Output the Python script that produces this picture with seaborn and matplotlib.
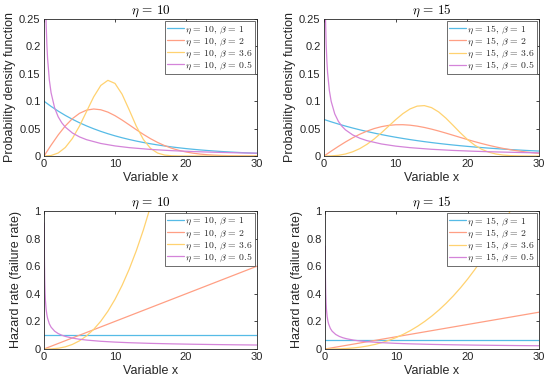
import matplotlib
matplotlib.use("Agg")
import matplotlib.pyplot as plt
import seaborn as sns

# ---------------- data ----------------
x_main = [0, 1, 2, 3, 4, 5, 6, 7, 8, 9, 10, 11, 12, 13, 14, 15,
          16, 17, 18, 19, 20, 21, 22, 23, 24, 25, 26, 27, 28, 29, 30]
x_small = [0.03, 0.06, 0.1, 0.15, 0.2, 0.3, 0.4, 0.5, 0.75, 1, 1.5, 2, 2.5, 3,
           4, 5, 6, 8, 10, 12, 15, 18, 21, 24, 27, 30]
x_line = [0, 30]

# eta = 10, probability density
pdf10_b1 = [0.1, 0.09048, 0.08187, 0.07408, 0.06703, 0.06065, 0.05488, 0.04966,
            0.04493, 0.04066, 0.03679, 0.03329, 0.03012, 0.02725, 0.02466, 0.02231,
            0.02019, 0.01827, 0.01653, 0.01496, 0.01353, 0.01225, 0.01108, 0.01003,
            0.00907, 0.00821, 0.00743, 0.00672, 0.00608, 0.00550, 0.00498]
pdf10_b2 = [0, 0.01980, 0.03843, 0.05484, 0.06817, 0.07788, 0.08372, 0.08577,
            0.08437, 0.08007, 0.07358, 0.06560, 0.05686, 0.04798, 0.03944, 0.03162,
            0.02474, 0.01890, 0.01410, 0.01028, 0.00733, 0.00511, 0.00348, 0.00232,
            0.00151, 0.00097, 0.00060, 0.00037, 0.00022, 0.00013, 0.00007]
pdf10_b36 = [0, 0.000904, 0.005466, 0.015528, 0.032034, 0.054677, 0.081366, 0.107968,
             0.128778, 0.138077, 0.132437, 0.112682, 0.084132, 0.054418, 0.030057,
             0.013954, 0.005354, 0.001667, 0.000413, 0.00008, 0.000012, 0, 0, 0, 0,
             0, 0, 0, 0, 0, 0]
pdf10_b05 = [0.86421, 0.59739, 0.45242, 0.36119, 0.30693, 0.24277, 0.20468, 0.17880,
             0.13884, 0.11525, 0.08764, 0.07149, 0.06065, 0.05279, 0.04200, 0.03487,
             0.02975, 0.02286, 0.01839, 0.01526, 0.01200, 0.00974, 0.00810, 0.00686,
             0.00588, 0.00511]

# eta = 15, probability density
pdf15_b1 = [0.066667, 0.062367, 0.058345, 0.054582, 0.051062, 0.047769, 0.044688,
            0.041806, 0.039110, 0.036587, 0.034228, 0.032020, 0.029955, 0.028023,
            0.026216, 0.024525, 0.022944, 0.021464, 0.020080, 0.018785, 0.017573,
            0.016440, 0.015380, 0.014388, 0.013460, 0.012592, 0.011780, 0.011020,
            0.010309, 0.009644, 0.009022]
pdf15_b2 = [0, 0.008849, 0.017465, 0.025621, 0.033115, 0.039771, 0.045448, 0.050046,
            0.053506, 0.055814, 0.056994, 0.057107, 0.056245, 0.054525, 0.052078,
            0.049051, 0.045587, 0.041828, 0.037908, 0.033947, 0.030047, 0.026293,
            0.022754, 0.019476, 0.016492, 0.013817, 0.011455, 0.009399, 0.007633,
            0.006137, 0.004884]
pdf15_b36 = [0, 0.000210, 0.001273, 0.003644, 0.007656, 0.013532, 0.021356, 0.031024,
             0.042191, 0.054244, 0.066296, 0.077233, 0.085851, 0.091028, 0.091945,
             0.088291, 0.080389, 0.069188, 0.056088, 0.042660, 0.030316, 0.020038,
             0.012261, 0.006910, 0.003569, 0.001680, 0.000717, 0.000275, 0.000095,
             0.000029, 0.000008]
pdf15_b05 = [0.71276, 0.49475, 0.37624, 0.30161, 0.25719, 0.20462, 0.17337, 0.15211,
             0.11920, 0.09972, 0.07683, 0.06336, 0.05428, 0.04766, 0.03851, 0.03241,
             0.02800, 0.02199, 0.01804, 0.01524, 0.01226, 0.01018, 0.00863, 0.00744,
             0.00650, 0.00573]

# eta = 10, hazard rate
haz10_b1 = [0.1, 0.1]
haz10_b2 = [0, 0.6]
haz10_b36 = [0, 0.000904, 0.005483, 0.015733, 0.033240, 0.059378, 0.095388, 0.142415,
             0.201528, 0.273736, 0.36, 0.461236, 0.578328, 0.712122, 0.863446,
             1.033094, 1.22184]
haz10_b05 = [0.91287, 0.64550, 0.5, 0.40825, 0.35355, 0.28868, 0.25, 0.22361, 0.18257,
             0.15811, 0.12910, 0.11180, 0.1, 0.09129, 0.07906, 0.07071, 0.06455,
             0.05590, 0.05, 0.04564, 0.04082, 0.03727, 0.03450, 0.03227, 0.03043,
             0.02887]

# eta = 15, hazard rate
haz15_b1 = [0.066667, 0.066667]
haz15_b2 = [0, 0.266667]
haz15_b36 = [0, 0.000210, 0.001274, 0.003655, 0.007722, 0.013794, 0.022160, 0.033085,
             0.046818, 0.063592, 0.083632, 0.107151, 0.134352, 0.165434, 0.200589,
             0.24, 0.283848, 0.332308, 0.385552, 0.443745, 0.507051, 0.575631,
             0.649640, 0.729233, 0.814560, 0.905772, 1.003008, 1.106420]
haz15_b05 = [0.74536, 0.52705, 0.40825, 0.33333, 0.28868, 0.23570, 0.20412, 0.18257,
             0.14907, 0.12910, 0.10541, 0.09129, 0.08165, 0.07454, 0.06455, 0.05774,
             0.05270, 0.04564, 0.04082, 0.03727, 0.03333, 0.03043, 0.02817, 0.02635,
             0.02485, 0.02357]

etas = ["10", "15"]
betas = ["1", "2", "3.6", "0.5"]
colors = ["#56BBE6", "#FF9F84", "#FFD270", "#D484D9"]

pdf_ticks = [0, 0.05, 0.1, 0.15, 0.2, 0.25]
pdf_ticklabels = ["0", "0.05", "0.1", "0.15", "0.2", "0.25"]
haz_ticks = [0, 0.2, 0.4, 0.6, 0.8, 1]
haz_ticklabels = ["0", "0.2", "0.4", "0.6", "0.8", "1"]
x_ticks = [0, 10, 20, 30]

# ---------------- style ----------------
sns.set_theme(style="white")
plt.rcParams["font.family"] = ["Liberation Sans", "DejaVu Sans"]
plt.rcParams["mathtext.fontset"] = "cm"
plt.rcParams["xtick.direction"] = "in"
plt.rcParams["ytick.direction"] = "in"

fig = plt.figure(figsize=(5.5, 3.83), dpi=100)
W, H = 550.0, 383.0
def rect(l, t, r, b):
    return [l / W, 1 - b / H, (r - l) / W, (b - t) / H]

ax_pdf10 = fig.add_axes(rect(44, 19, 257, 156))
ax_pdf15 = fig.add_axes(rect(324, 19, 539, 156))
ax_haz10 = fig.add_axes(rect(44, 211, 257, 349))
ax_haz15 = fig.add_axes(rect(325, 211, 539, 349))

panels = [
    (ax_pdf10, "10", [(x_main, pdf10_b1), (x_main, pdf10_b2), (x_main, pdf10_b36), (x_small, pdf10_b05)],
     "Probability density function", 0.25, pdf_ticks, pdf_ticklabels),
    (ax_pdf15, "15", [(x_main, pdf15_b1), (x_main, pdf15_b2), (x_main, pdf15_b36), (x_small, pdf15_b05)],
     "Probability density function", 0.25, pdf_ticks, pdf_ticklabels),
    (ax_haz10, "10", [(x_line, haz10_b1), (x_line, haz10_b2), (x_main, haz10_b36), (x_small, haz10_b05)],
     "Hazard rate (failure rate)", 1.0, haz_ticks, haz_ticklabels),
    (ax_haz15, "15", [(x_line, haz15_b1), (x_line, haz15_b2), (x_main, haz15_b36), (x_small, haz15_b05)],
     "Hazard rate (failure rate)", 1.0, haz_ticks, haz_ticklabels),
]

edge = "#262626"
for ax, eta, series, ylab, ymax, yt, ytl in panels:
    for (xs, ys), beta, col in zip(series, betas, colors):
        sns.lineplot(x=xs[:len(ys)], y=ys, ax=ax, color=col, linewidth=0.9,
                     estimator=None, sort=False,
                     label=r"$\eta\,=\,%s,\,\beta\,=\,%s$" % (eta, beta))
    ax.set_xlim(0, 30)
    ax.set_ylim(0, ymax)
    ax.set_xticks(x_ticks)
    ax.set_xticklabels([str(t) for t in x_ticks])
    ax.set_yticks(yt)
    ax.set_yticklabels(ytl)
    ax.tick_params(axis="both", which="both", direction="in", length=2.5, width=0.6,
                   top=True, right=True, labelsize=8, colors=edge, pad=2.5)
    for s in ax.spines.values():
        s.set_color(edge)
        s.set_linewidth(0.6)
    ax.set_xlabel("Variable x", fontsize=9, color=edge, labelpad=2)
    ax.set_ylabel(ylab, fontsize=9, color=edge, labelpad=2)
    ax.set_title(r"$\eta\,=\,%s$" % eta, fontsize=9.5, pad=4, color="black")
    leg = ax.legend(loc="upper right", fontsize=7, frameon=True, fancybox=False,
                    framealpha=1, edgecolor="#555555", borderpad=0.2, labelspacing=0.0,
                    handlelength=1.8, handletextpad=0.1, borderaxespad=0.25)
    leg.get_frame().set_linewidth(0.6)

fig.savefig("out.png", dpi=100)
